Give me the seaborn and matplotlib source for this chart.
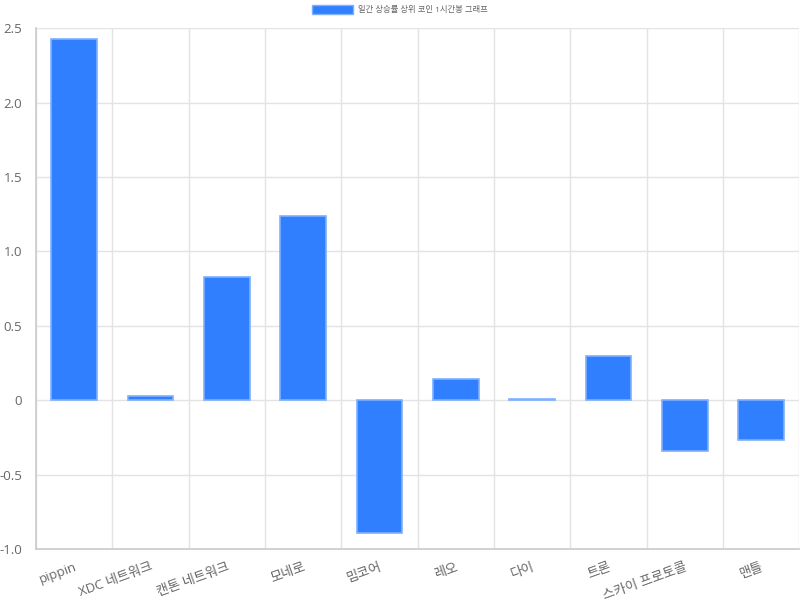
import matplotlib
matplotlib.use("Agg")
import matplotlib.pyplot as plt
import seaborn as sns
import numpy as np
import pandas as pd
from matplotlib.patches import Patch
from matplotlib.ticker import FuncFormatter, FixedLocator

coins = ["pippin", "XDC 네트워크", "캔톤 네트워크", "모네로", "밈코어",
         "레오", "다이", "트론", "스카이 프로토콜", "맨틀"]
changes = [2.43, 0.03, 0.83, 1.24, -0.89, 0.14, 0.01, 0.30, -0.34, -0.27]
series_name = "일간 상승률 상위 코인 1시간봉 그래프"

sns.set_theme(style="white")
plt.rcParams['font.family'] = ['Open Sans', 'Noto Sans CJK KR', 'DejaVu Sans']

bar_color = "#2F7FFF"
edge_color = "#7FB0FF"
grid_color = "#e3e3e3"
text_color = "#666666"

df = pd.DataFrame({"coin": coins, "change": changes})

fig = plt.figure(figsize=(8, 6), dpi=100)
ax = fig.add_axes([0.045, 0.085, 0.954, 0.868])

sns.barplot(data=df, x="coin", y="change", color=bar_color, width=0.6,
            edgecolor=edge_color, linewidth=1.2, saturation=1, ax=ax, zorder=3)

ax.set_ylim(-1.0, 2.5)
ax.set_xlim(-0.5, len(coins) - 0.5)
ax.set_yticks(np.arange(-1.0, 2.51, 0.5))
ax.yaxis.set_major_formatter(FuncFormatter(lambda v, p: "0" if abs(v) < 1e-9 else f"{v:.1f}"))

# vertical grid lines sit between categories
ax.xaxis.set_minor_locator(FixedLocator(np.arange(-0.5, len(coins), 1.0)))
ax.grid(axis="y", which="major", color=grid_color, linewidth=1, zorder=0)
ax.grid(axis="x", which="minor", color=grid_color, linewidth=1, zorder=0)
ax.set_axisbelow(True)

ax.tick_params(axis="x", which="major", length=0, pad=8, labelsize=9.5, labelcolor=text_color)
ax.tick_params(axis="x", which="minor", length=8, color=grid_color, direction="out")
ax.tick_params(axis="y", length=6, color=grid_color, labelsize=9.5, labelcolor=text_color, pad=4)
plt.setp(ax.get_xticklabels(), rotation=20, ha="right", rotation_mode="anchor")

for side in ["top", "right"]:
    ax.spines[side].set_visible(False)
for side in ["left", "bottom"]:
    ax.spines[side].set_color("#cccccc")
ax.set_xlabel("")
ax.set_ylabel("")

handle = Patch(facecolor=bar_color, edgecolor=edge_color, label=series_name)
fig.legend(handles=[handle], loc="upper center", bbox_to_anchor=(0.5, 1.005),
           frameon=False, fontsize=6, handlelength=5.0, handleheight=1.3,
           labelcolor=text_color, handletextpad=0.6)

fig.savefig("out.png", dpi=100)
